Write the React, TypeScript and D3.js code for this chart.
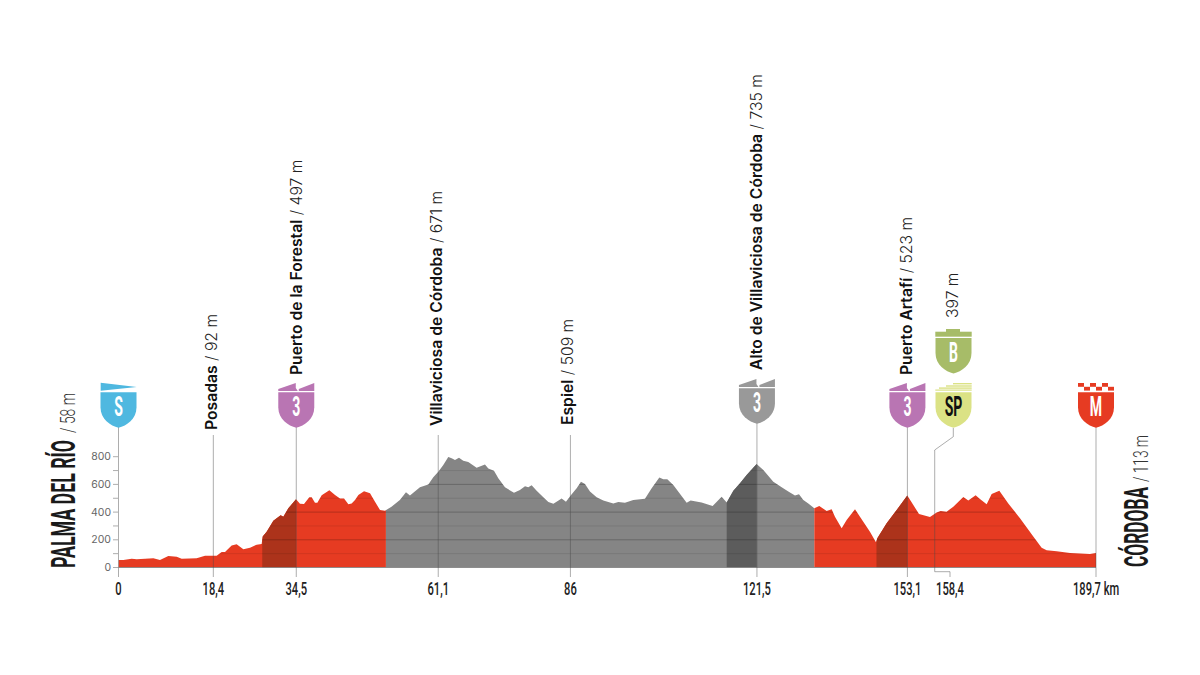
import React from "react";
import * as d3 from "d3";

// Distance (km along the drawn axis), elevation (m)
const profileKm = [0,0.94,2.56,3.53,6.76,8.05,9.67,11.3,12.26,15.17,16.79,19.05,20.02,20.67,21.96,22.93,24.23,25.52,26.81,27.78,27.98,28.75,30.05,31.47,31.99,32.96,34.45,35.22,36,37.03,37.49,38.13,38.59,39.43,40.92,42.02,42.99,43.77,44.61,45.25,45.9,46.55,47.65,48.81,49.78,50.75,51.72,52.98,54.6,55.79,56.56,58.5,60.12,61.09,62.06,63.03,64,64.65,65.3,66.08,66.91,67.88,69.5,71.12,71.77,72.87,73.71,75,76.75,77.91,78.89,79.53,80.18,81.15,82.45,83.42,84.4,86,86.84,87.75,88.91,89.75,90.53,91.5,92.79,94.09,95.38,96.03,97,98.29,99.91,102.17,103.47,104.96,105.73,106.5,107.67,110.26,111.03,113.16,115.3,117.05,118.03,119.32,120.61,121.9,123.84,125.14,127.08,128.7,129.99,131.28,132.06,132.9,133.87,135.03,136,137.43,138.4,139.04,140.34,141.31,142.93,144.54,145.83,147,147.26,149.07,151.01,153.08,154.25,155.35,157.48,158.78,159.55,160.71,162.01,163.95,164.92,166.34,167.18,168.48,169.45,170.94,172.68,174.95,177.53,179.15,180.12,182.06,184.65,188.53,189.7];
const profileM = [54,54,64,59,66,54,83,78,64,66,85,85,112,112,158,167,131,143,165,170,223,259,338,377,367,427,492,461,459,507,507,468,468,521,557,524,499,499,456,463,487,524,550,536,475,415,410,439,487,543,519,579,600,651,692,740,798,788,776,793,771,762,721,743,714,699,644,579,540,560,586,579,593,555,507,473,461,499,475,519,572,620,603,548,507,483,470,463,473,468,487,497,572,649,637,637,596,468,483,470,444,511,470,555,608,668,747,704,620,579,548,519,528,487,463,427,444,408,420,367,283,343,420,331,259,182,211,319,415,519,451,386,365,398,408,403,439,509,483,521,495,456,531,555,463,355,223,143,124,117,105,97,105];

const sectionStart = [0, 51.9, 135.03];
const sectionEnd = [51.9, 135.03, 189.7];
const sectionKind = ["red", "grey", "red"];
const climbStart = [27.9, 118.03, 147.1];
const climbEnd = [34.45, 123.84, 153.08];
const climbKind = ["red", "grey", "red"];

const yTickLabels = [0, 200, 400, 600, 800];
const yMinor = [100, 200, 300, 400, 500, 600, 700, 800];

const tickKm = [0, 18.4, 34.5, 62.05, 87.7, 123.9, 153.1, 158.4, 189.7];
const tickLabels = ["0", "18,4", "34,5", "61,1", "86", "121,5", "153,1", "158,4", "189,7 km"];

const placeNames = ["Posadas", "Puerto de la Forestal", "Villaviciosa de Córdoba", "Espiel", "Alto de Villaviciosa de Córdoba", "Puerto Artafí"];
const placeHeights = ["92 m", "497 m", "671 m", "509 m", "735 m", "523 m"];
const placeKm = [18.4, 34.5, 62.05, 87.7, 123.9, 153.1];
const placeBottom = [430, 375, 426, 425, 370, 375];
const placeDx = [3.5, 6, 3.5, 3, 5, 5];
const placeLineTop = [435, 427, 435, 435, 423, 427];

const W = 1200, H = 675;
const x = d3.scaleLinear().domain([0, 189.7]).range([118.5, 1096]);
const y = d3.scaleLinear().domain([0, 800]).range([567.5, 456.7]);
const pts: [number, number][] = profileKm.map((k, i) => [k, profileM[i]]);
const areaPath = d3.area<[number, number]>().x(d => x(d[0])).y0(y(0)).y1(d => y(d[1]))(pts) || "";

const RED = "#E63B22", GREY = "#858585", DRED = "#AC331B", DGREY = "#5C5C5C";
const BODY = "Inter, 'Liberation Sans', sans-serif";
const COND = "Roboto, 'Liberation Sans', sans-serif";

function shield(cx: number, t: number) {
  const b = t + 35.5;
  return `M${cx - 18},${t}H${cx + 18}V${t + 15}C${cx + 18},${t + 27} ${cx + 8},${b - 2} ${cx},${b}C${cx - 8},${b - 2} ${cx - 18},${t + 27} ${cx - 18},${t + 15}Z`;
}

function Cond({ px, py, size, sx, rot = 0, fill = "#1a1a1a", weight = 700, anchor = "middle", children }: any) {
  return (
    <text transform={`translate(${px},${py}) rotate(${rot}) scale(${sx},1)`} fontFamily={COND} fontSize={size} fontWeight={weight} fill={fill} textAnchor={anchor}>{children}</text>
  );
}

function Saw({ cx, t, fill }: any) {
  const l = cx - 18;
  return <path d={`M${l},${t}V${t - 2}L${l + 17.5},${t - 8}V${t - 3}L${l + 19.5},${t}ZM${l + 20.5},${t}V${t - 2}L${l + 36},${t - 8}V${t}Z`} fill={fill} />;
}

export default function App() {
  const lineCol = "#4a4a4a";
  return (
    <svg width={W} height={H} viewBox={`0 0 ${W} ${H}`} style={{ position: "fixed", left: 0, top: 0, background: "#fff" }}>
      <defs>
        <clipPath id="prof"><path d={areaPath} /></clipPath>
      </defs>

      <g clipPath="url(#prof)">
        {sectionStart.map((s, i) => (
          <rect key={i} x={x(s)} y={y(900)} width={x(sectionEnd[i]) - x(s)} height={y(0) - y(900)} fill={sectionKind[i] === "red" ? RED : GREY} />
        ))}
        {climbStart.map((s, i) => (
          <rect key={i} x={x(s)} y={y(900)} width={x(climbEnd[i]) - x(s)} height={y(0) - y(900)} fill={climbKind[i] === "red" ? DRED : DGREY} />
        ))}
        {yMinor.map(v => (
          <line key={v} x1={x(0)} x2={x(189.7)} y1={y(v)} y2={y(v)} stroke="#000" strokeOpacity={v % 200 === 0 ? 0.28 : 0.12} strokeWidth={0.8} />
        ))}
      </g>
      <line x1={x(0)} x2={x(189.7)} y1={y(0)} y2={y(0)} stroke="#777" strokeWidth={0.8} />

      {/* Y axis */}
      {[0, ...yMinor].map(v => (
        <line key={v} x1={113} x2={118} y1={y(v)} y2={y(v)} stroke="#999" strokeWidth={0.8} />
      ))}
      {yTickLabels.map(v => (
        <text key={v} x={111} y={y(v) + 3.5} fontFamily={BODY} fontSize={10.5} fill="#666" textAnchor="end">{v}</text>
      ))}

      {/* Verticals from the shields and place names */}
      <line x1={x(0)} x2={x(0)} y1={427} y2={577} stroke={lineCol} strokeOpacity={0.45} strokeWidth={1} />
      <line x1={x(189.7)} x2={x(189.7)} y1={427} y2={577} stroke={lineCol} strokeOpacity={0.45} strokeWidth={1} />
      {placeKm.map((k, i) => (
        <line key={k} x1={x(k)} x2={x(k)} y1={placeLineTop[i]} y2={577} stroke={lineCol} strokeOpacity={0.45} strokeWidth={1} />
      ))}
      <path d={`M953.3,428V436.7L${x(158.4)},450V571.7H950V577`} fill="none" stroke={lineCol} strokeOpacity={0.45} strokeWidth={1} />

      {/* X tick labels */}
      {tickLabels.map((t, i) => {
        const last = i === tickLabels.length - 1;
        const px = i === 7 ? 950 : x(tickKm[i]);
        return (
          <Cond key={t} px={last ? 1073 : px} py={595} size={18} sx={0.62} weight={500} anchor={last ? "start" : "middle"} fill="#222">{t}</Cond>
        );
      })}

      {/* Place names */}
      {placeNames.map((n, i) => (
        <text key={n} transform={`translate(${x(placeKm[i]) + placeDx[i]},${placeBottom[i]}) rotate(-90)`} fontFamily={BODY} fontSize={15.7} fill="#111">
          <tspan fontWeight={600}>{n}</tspan>
          <tspan fontWeight={300} fill="#222"> / {placeHeights[i]}</tspan>
        </text>
      ))}
      <text transform="translate(958,318) rotate(-90)" fontFamily={BODY} fontSize={15.7} fontWeight={300} fill="#222">397 m</text>

      {/* Start / finish names */}
      <g transform="translate(75,568) rotate(-90)">
        <text fontFamily={COND} fontSize={33} fontWeight={700} fill="#1a1a1a" textLength={128} lengthAdjust="spacingAndGlyphs">PALMA DEL RÍO</text>
        <text x={135} fontFamily={COND} fontSize={21} fontWeight={300} fill="#333" textLength={40} lengthAdjust="spacingAndGlyphs">/ 58 m</text>
      </g>
      <g transform="translate(1148,567) rotate(-90)">
        <text fontFamily={COND} fontSize={33} fontWeight={700} fill="#1a1a1a" textLength={80} lengthAdjust="spacingAndGlyphs">CÓRDOBA</text>
        <text x={85} fontFamily={COND} fontSize={21} fontWeight={300} fill="#333" textLength={47} lengthAdjust="spacingAndGlyphs">/ 113 m</text>
      </g>

      {/* Shields */}
      <path d={`M100.7,382.7L136.7,387L100.7,390.7Z`} fill="#4FB8E0" />
      <path d={shield(x(0), 392.3)} fill="#4FB8E0" />
      <Cond px={x(0)} py={416} size={27} sx={0.52} fill="#fff">S</Cond>

      <Saw cx={x(34.5)} t={390.9} fill="#B975B3" />
      <path d={shield(x(34.5), 392.3)} fill="#B975B3" />
      <Cond px={x(34.5)} py={416} size={27} sx={0.52} fill="#fff">3</Cond>

      <Saw cx={x(123.9)} t={386.9} fill="#999999" />
      <path d={shield(x(123.9), 388.3)} fill="#999999" />
      <Cond px={x(123.9)} py={412} size={27} sx={0.52} fill="#fff">3</Cond>

      <Saw cx={x(153.1)} t={390.9} fill="#B975B3" />
      <path d={shield(x(153.1), 392.3)} fill="#B975B3" />
      <Cond px={x(153.1)} py={416} size={27} sx={0.52} fill="#fff">3</Cond>

      {/* Bonus */}
      <rect x={946} y={329} width={14} height={3} fill="#A7BC68" />
      <rect x={935.3} y={331.7} width={36.4} height={5} fill="#A7BC68" />
      <path d={shield(953.5, 338)} fill="#A7BC68" />
      <Cond px={953.5} py={362} size={27} sx={0.52} fill="#fff">B</Cond>

      {/* Sprint */}
      <rect x={953} y={383} width={18.7} height={1.4} fill="#DBE285" />
      <rect x={946} y={385.3} width={25.7} height={1.4} fill="#DBE285" />
      <rect x={939} y={387.4} width={32.7} height={1.4} fill="#DBE285" />
      <rect x={935.3} y={389.5} width={36.4} height={1.2} fill="#DBE285" />
      <path d={shield(953.5, 392.3)} fill="#DBE285" />
      <Cond px={953.5} py={416} size={27} sx={0.52} fill="#111">SP</Cond>

      {/* Finish */}
      {[0, 1].map(r => d3.range(6).map(c => (
        (r + c) % 2 === 0 ? (
          <rect key={`${r}-${c}`} x={x(189.7) - 18 + c * 6} y={383 + r * 3.8} width={6} height={3.8} fill={RED} />
        ) : null
      )))}
      <path d={shield(x(189.7), 392.3)} fill={RED} />
      <Cond px={x(189.7)} py={416} size={27} sx={0.52} fill="#fff">M</Cond>
    </svg>
  );
}
